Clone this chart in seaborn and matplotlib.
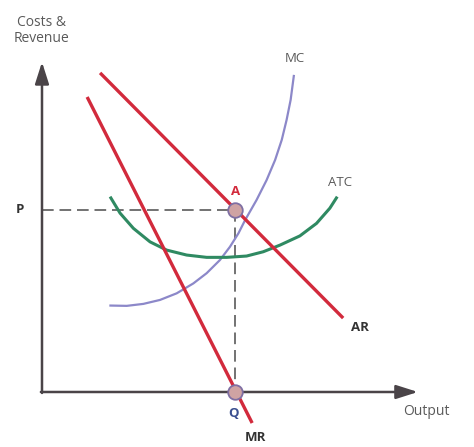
import numpy as np
import pandas as pd
import matplotlib
matplotlib.use("Agg")
import matplotlib.pyplot as plt
import seaborn as sns

# values (output on x, costs/revenue on y)
ar_x = [1.57, 8.14]
ar_y = [9.67, 2.24]

mr_x = [1.22, 5.68]
mr_y = [8.94, -0.94]

mc_x = [1.82, 2.29, 2.74, 3.19, 3.64, 4.09, 4.45, 4.81, 5.08, 5.31, 5.49,
        5.80, 6.07, 6.30, 6.48, 6.61, 6.72, 6.81]
mc_y = [2.62, 2.61, 2.67, 2.79, 2.99, 3.29, 3.60, 4.00, 4.40, 4.81, 5.21,
        5.82, 6.42, 7.03, 7.64, 8.24, 8.85, 9.61]

atc_x = [1.84, 2.11, 2.47, 2.92, 3.37, 3.91, 4.45, 4.99, 5.53, 5.98, 6.43,
         6.97, 7.42, 7.78, 7.98]
atc_y = [5.92, 5.42, 4.96, 4.55, 4.30, 4.15, 4.08, 4.08, 4.12, 4.25, 4.45,
         4.73, 5.11, 5.57, 5.92]

q_out = 5.22
p_price = 5.52

RED = "#d22a3c"
BLUE = "#8c88c9"
GREEN = "#2f8a62"
AXIS = "#4a4448"
GREY = "#5a5a5a"

sns.set_theme(style="white")
plt.rcParams["font.family"] = ["Open Sans", "DejaVu Sans"]
plt.rcParams["lines.solid_joinstyle"] = "round"
plt.rcParams["lines.solid_capstyle"] = "butt"

fig = plt.figure(figsize=(4.74, 4.47), dpi=100)
ax = fig.add_axes([0, 0, 1, 1])
ax.set_xlim(-1.135, 11.676)
ax.set_ylim(-1.667, 11.879)

# axes with arrows
ax.annotate("", xy=(10.16, 0), xytext=(-0.03, 0),
            arrowprops=dict(arrowstyle="-|>,head_length=1.1,head_width=0.35",
                            color=AXIS, lw=1.8, shrinkA=0, shrinkB=0))
ax.annotate("", xy=(0, 10.0), xytext=(0, -0.03),
            arrowprops=dict(arrowstyle="-|>,head_length=1.1,head_width=0.35",
                            color=AXIS, lw=1.8, shrinkA=0, shrinkB=0))

# guide lines
ax.plot([0, q_out], [p_price, p_price], color=GREY, lw=1.2, dashes=(7, 3.5), zorder=2)
ax.plot([q_out, q_out], [p_price, 0], color=GREY, lw=1.2, dashes=(7, 3.5), zorder=2)

curves = pd.concat([
    pd.DataFrame({"x": mc_x, "y": mc_y, "curve": "MC"}),
    pd.DataFrame({"x": atc_x, "y": atc_y, "curve": "ATC"}),
])
sns.lineplot(data=curves[curves.curve == "MC"], x="x", y="y", sort=False,
             color=BLUE, lw=1.6, ax=ax, zorder=3)
sns.lineplot(data=curves[curves.curve == "ATC"], x="x", y="y", sort=False,
             color=GREEN, lw=2.2, ax=ax, zorder=3)
sns.lineplot(x=ar_x, y=ar_y, color=RED, lw=2.4, ax=ax, zorder=4)
sns.lineplot(x=mr_x, y=mr_y, color=RED, lw=2.4, ax=ax, zorder=4)

ax.scatter([q_out, q_out], [p_price, 0], s=110, facecolor="#cfa3a3",
           edgecolor="#7f6fa3", linewidth=1.3, zorder=6)

ax.axis("off")

# labels
ax.text(0.0, 10.95, "Costs &\nRevenue", ha="center", va="center",
        fontsize=10, color=GREY, linespacing=1.15)
ax.text(-0.6, p_price, "P", ha="center", va="center", fontsize=9.5,
        color="#333333", fontweight="bold")
ax.text(q_out, p_price + 0.55, "A", ha="center", va="center", fontsize=9.5,
        color=RED, fontweight="bold")
ax.text(q_out - 0.05, -0.64, "Q", ha="center", va="center", fontsize=9.5,
        color="#3b4f90", fontweight="bold")
ax.text(5.76, -1.39, "MR", ha="center", va="center", fontsize=9.5,
        color="#333333", fontweight="bold")
ax.text(8.6, 1.94, "AR", ha="center", va="center", fontsize=9.5,
        color="#333333", fontweight="bold")
ax.text(6.84, 10.12, "MC", ha="center", va="center", fontsize=9.5, color=GREY)
ax.text(8.05, 6.36, "ATC", ha="center", va="center", fontsize=9.5, color=GREY)
ax.text(10.4, -0.6, "Output", ha="center", va="center", fontsize=10, color=GREY)

fig.savefig("out.png", dpi=100)
